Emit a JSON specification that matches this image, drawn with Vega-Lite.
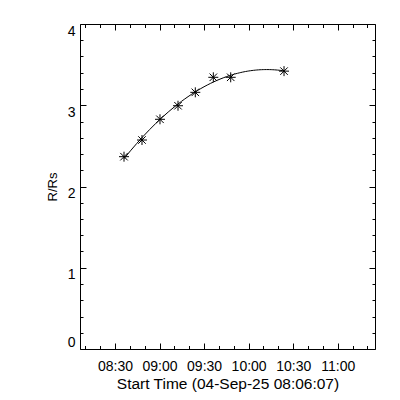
{
  "$schema": "https://vega.github.io/schema/vega-lite/v6.json",
  "width": 295,
  "height": 325,
  "autosize": "none",
  "padding": {"left": 80, "top": 24, "right": 25, "bottom": 51},
  "background": "white",
  "config": {
    "view": {"stroke": "black", "strokeWidth": 1},
    "font": "Liberation Sans",
    "axis": {
      "grid": false,
      "domain": false,
      "tickColor": "black",
      "tickWidth": 1,
      "labelColor": "black",
      "titleColor": "black",
      "labelFont": "Liberation Sans",
      "titleFont": "Liberation Sans",
      "labelFontSize": 14,
      "titleFontSize": 15.5,
      "titleFontWeight": "normal"
    }
  },
  "data": {
    "values": [
      {"t": 36.07, "r": 2.367},
      {"t": 48.18, "r": 2.572},
      {"t": 60.3, "r": 2.827},
      {"t": 72.43, "r": 2.994},
      {"t": 84.08, "r": 3.159},
      {"t": 96.22, "r": 3.344},
      {"t": 107.93, "r": 3.344},
      {"t": 143.83, "r": 3.42}
    ]
  },
  "resolve": {"axis": {"x": "independent", "y": "independent"}},
  "layer": [
    {
      "transform": [{"regression": "r", "on": "t", "method": "poly", "order": 2}],
      "mark": {"type": "line", "color": "black", "strokeWidth": 1},
      "encoding": {
        "x": {
          "field": "t", "type": "quantitative",
          "scale": {"domain": [6.43, 205.1], "nice": false, "zero": false},
          "axis": {"orient": "bottom", "values": [30, 60, 90, 120, 150, 180],
                   "labelExpr": "timeFormat(datetime(2025, 8, 4, 8, datum.value, 0), '%H:%M')",
                   "tickSize": -6, "labelPadding": 16, "title": "Start Time (04-Sep-25 08:06:07)", "titlePadding": 3, "labelFlush": false}
        },
        "y": {
          "field": "r", "type": "quantitative",
          "scale": {"domain": [0, 4], "nice": false, "zero": false},
          "axis": {"orient": "left", "values": [0, 1, 2, 3, 4], "tickSize": -6, "labelPadding": 11,
                   "labelBaseline": {"condition": {"test": "datum.value == 0", "value": "bottom"}, "value": "top"},
                   "labelFlush": false,
                   "title": "R/Rs", "titleFontSize": 13, "titlePadding": 8}
        }
      }
    },
    {
      "mark": {"type": "point", "shape": "M-1,0L1,0M0,-1L0,1M-0.75,-0.75L0.75,0.75M-0.75,0.75L0.75,-0.75", "filled": false, "stroke": "black", "strokeWidth": 1, "size": 100, "opacity": 1},
      "encoding": {
        "x": {"field": "t", "type": "quantitative",
              "axis": {"orient": "top", "values": [30, 60, 90, 120, 150, 180], "tickSize": -6, "labels": false, "title": null}},
        "y": {"field": "r", "type": "quantitative",
              "axis": {"orient": "right", "values": [0, 1, 2, 3, 4], "tickSize": -6, "labels": false, "title": null}}
      }
    },
    {
      "mark": {"type": "point", "opacity": 0},
      "encoding": {
        "x": {"field": "t", "type": "quantitative",
              "axis": {"orient": "bottom", "values": [10, 20, 40, 50, 70, 80, 100, 110, 130, 140, 160, 170, 190, 200], "tickSize": -3.5, "labels": false, "title": null}},
        "y": {"field": "r", "type": "quantitative",
              "axis": {"orient": "left", "values": [0.2, 0.4, 0.6, 0.8, 1.2, 1.4, 1.6, 1.8, 2.2, 2.4, 2.6, 2.8, 3.2, 3.4, 3.6, 3.8], "tickSize": -3, "labels": false, "title": null}}
      }
    },
    {
      "mark": {"type": "point", "opacity": 0},
      "encoding": {
        "x": {"field": "t", "type": "quantitative",
              "axis": {"orient": "top", "values": [10, 20, 40, 50, 70, 80, 100, 110, 130, 140, 160, 170, 190, 200], "tickSize": -3.5, "labels": false, "title": null}},
        "y": {"field": "r", "type": "quantitative",
              "axis": {"orient": "right", "values": [0.2, 0.4, 0.6, 0.8, 1.2, 1.4, 1.6, 1.8, 2.2, 2.4, 2.6, 2.8, 3.2, 3.4, 3.6, 3.8], "tickSize": -3, "labels": false, "title": null}}
      }
    }
  ]
}
